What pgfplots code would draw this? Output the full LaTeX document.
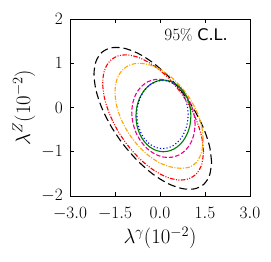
\documentclass[border=0pt]{standalone}
\usepackage{pgfplots}
\pgfplotsset{compat=1.18}
\usepackage{fontspec}
\newfontfamily\dejavu{DejaVu Sans}
\definecolor{mplorange}{HTML}{FFA500}
\definecolor{mplgreen}{HTML}{008000}
\begin{document}
\begin{tikzpicture}
\path[use as bounding box] (-70pt,-66pt) rectangle (201pt,196pt);
\begin{axis}[
  at={(0,0)}, anchor=south west,
  scale only axis, width=180pt, height=177pt,
  xmin=-3, xmax=3, ymin=-2, ymax=2,
  xtick={-3,-1.5,0,1.5,3}, ytick={-2,-1,0,1,2},
  xticklabel style={/pgf/number format/fixed,/pgf/number format/fixed zerofill,/pgf/number format/precision=1, inner sep=0pt, anchor=north, yshift=-10.8pt},
  yticklabel style={inner sep=0pt, anchor=east, xshift=-7pt},
  tick align=inside, major tick length=4pt,
  tick style={black, line width=0.6pt},
  xtick pos=both, ytick pos=both,
  axis line style={line width=0.8pt},
  tick label style={font=\fontsize{16}{16}\selectfont},
  label style={font=\fontsize{21}{21}\selectfont},
  xlabel={$\lambda^{\gamma}(10^{-2})$},
  ylabel={$\lambda^{Z}(10^{-2})$},
  xlabel style={at={(axis description cs:0.5,-0.237)}, anchor=center, inner sep=0pt},
  ylabel style={at={(axis description cs:-0.256,0.5)}, anchor=center, inner sep=0pt, rotate=0},
  every axis plot/.append style={line width=1.1pt, mark=none},
]
% black long dashed
\addplot[black, dash pattern=on 8pt off 4pt, smooth] coordinates {
(1.72,-1.24) (1.653,-0.880) (1.457,-0.477) (1.146,-0.059) (0.74,0.347) (0.267,0.713)
(-0.24,1.014) (-0.747,1.229) (-1.22,1.343) (-1.626,1.349) (-1.937,1.247) (-2.133,1.042)
(-2.2,0.75) (-2.133,0.39) (-1.937,-0.013) (-1.626,-0.431) (-1.22,-0.837) (-0.747,-1.203)
(-0.24,-1.504) (0.267,-1.719) (0.74,-1.833) (1.146,-1.839) (1.457,-1.737) (1.653,-1.532)
(1.72,-1.24)};
% red dash-dot-dot
\addplot[red, dash pattern=on 4.5pt off 1.5pt on 1pt off 1.5pt on 1pt off 1.5pt, smooth] coordinates {
(1.45,-1.003) (1.393,-0.670) (1.225,-0.308) (0.958,0.061) (0.61,0.410) (0.205,0.716)
(-0.23,0.957) (-0.665,1.118) (-1.07,1.188) (-1.418,1.161) (-1.685,1.040) (-1.853,0.832)
(-1.91,0.553) (-1.853,0.220) (-1.685,-0.142) (-1.418,-0.511) (-1.07,-0.86) (-0.665,-1.166)
(-0.23,-1.407) (0.205,-1.568) (0.61,-1.638) (0.958,-1.611) (1.225,-1.49) (1.393,-1.282)
(1.45,-1.003)};
% orange dash-dot
\addplot[mplorange, dash pattern=on 4.5pt off 1.5pt on 1pt off 1.5pt, smooth] coordinates {
(1.44,-0.718) (1.39,-0.426) (1.243,-0.118) (1.009,0.186) (0.705,0.464) (0.35,0.699)
(-0.03,0.873) (-0.41,0.975) (-0.765,0.998) (-1.069,0.94) (-1.303,0.806) (-1.45,0.604)
(-1.5,0.348) (-1.45,0.056) (-1.303,-0.252) (-1.069,-0.556) (-0.765,-0.834) (-0.41,-1.069)
(-0.03,-1.243) (0.35,-1.342) (0.705,-1.373) (1.009,-1.34) (1.243,-1.216) (1.39,-1.0)
(1.44,-0.718)};
% magenta dashed
\addplot[magenta, dash pattern=on 4.5pt off 2pt, smooth] coordinates {
(1.17,-0.378) (1.134,-0.147) (1.029,0.078) (0.861,0.28) (0.643,0.446) (0.388,0.566)
(0.115,0.63) (-0.158,0.634) (-0.413,0.58) (-0.631,0.468) (-0.799,0.308) (-0.904,0.109)
(-0.94,-0.112) (-0.904,-0.343) (-0.799,-0.568) (-0.631,-0.77) (-0.413,-0.936) (-0.158,-1.056)
(0.115,-1.12) (0.388,-1.124) (0.643,-1.07) (0.861,-0.958) (1.029,-0.798) (1.134,-0.599)
(1.17,-0.378)};
% green solid
\addplot[mplgreen, smooth] coordinates {
(1.03,-0.19) (0.999,0.02) (0.907,0.215) (0.762,0.383) (0.573,0.511) (0.352,0.592)
(0.115,0.62) (-0.122,0.592) (-0.343,0.511) (-0.532,0.383) (-0.677,0.215) (-0.769,0.02)
(-0.8,-0.19) (-0.769,-0.40) (-0.677,-0.595) (-0.532,-0.763) (-0.343,-0.891) (-0.122,-0.972)
(0.115,-1.0) (0.352,-0.972) (0.573,-0.891) (0.762,-0.763) (0.907,-0.595) (0.999,-0.40)
(1.03,-0.19)};
% blue dotted
\addplot[blue, dash pattern=on 1.1pt off 2.2pt, smooth] coordinates {
(0.94,-0.16) (0.911,0.039) (0.825,0.225) (0.69,0.384) (0.513,0.507) (0.306,0.584)
(0.085,0.61) (-0.136,0.584) (-0.343,0.507) (-0.52,0.384) (-0.655,0.225) (-0.741,0.039)
(-0.77,-0.16) (-0.741,-0.359) (-0.655,-0.545) (-0.52,-0.704) (-0.343,-0.827) (-0.136,-0.904)
(0.085,-0.93) (0.306,-0.904) (0.513,-0.827) (0.69,-0.704) (0.825,-0.545) (0.911,-0.359)
(0.94,-0.16)};
\node[font=\fontsize{16}{16}\selectfont] at (axis cs:1.2,1.63) {$95\%$ {\dejavu C.L.}};
\end{axis}
\end{tikzpicture}
\end{document}
